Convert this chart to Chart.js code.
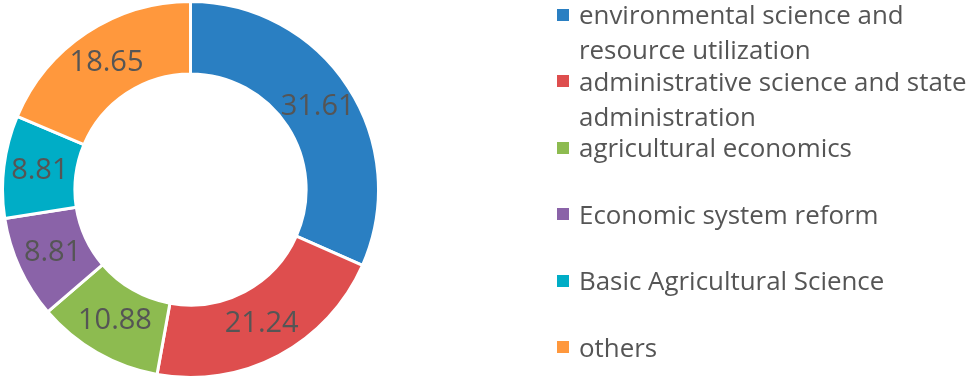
<!DOCTYPE html>
<html>
<head>
<meta charset="utf-8">
<script src="https://cdn.jsdelivr.net/npm/chart.js@4.4.1/dist/chart.umd.min.js"></script>
<style>
  html, body { margin: 0; padding: 0; background: #fff; }
  body { width: 969px; height: 379px; position: relative; overflow: hidden; font-family: "Open Sans", sans-serif; }
  #wrap { position: absolute; left: 0; top: 0; width: 381px; height: 379px; }
  #legenda { position: absolute; left: 0; top: 0; width: 969px; height: 379px; }
  .item { position: absolute; left: 557px; width: 412px; }
  .quad { position: absolute; left: 0; width: 12px; height: 12px; }
  .txt { position: absolute; left: 22px; width: 392px; color: #555555; font-size: 25.9px; line-height: 35px; }
</style>
</head>
<body>
<div id="wrap"><canvas id="grafico"></canvas></div>
<div id="legenda"></div>

<script>
// dados
const categorias = [
    'environmental science and resource utilization',
    'administrative science and state administration',
    'agricultural economics',
    'Economic system reform',
    'Basic Agricultural Science',
    'others'
];
const valores = [31.61, 21.24, 10.88, 8.81, 8.81, 18.65];
const cores = ['#2a7fc2', '#de4e4e', '#8dbb50', '#8a63a8', '#00adc6', '#ff983d'];

// escreve o valor no meio de cada fatia
const rotulosPlugin = {
    id: 'rotulos',
    afterDatasetsDraw(chart) {
        const ctx = chart.ctx;
        const meta = chart.getDatasetMeta(0);
        ctx.save();
        ctx.font = '29px "Open Sans", sans-serif';
        ctx.fillStyle = '#555555';
        ctx.textAlign = 'center';
        ctx.textBaseline = 'middle';
        meta.data.forEach((arco, i) => {
            const pos = arco.tooltipPosition();
            ctx.fillText(valores[i].toFixed(2), pos.x, pos.y);
        });
        ctx.restore();
    }
};

const ctx = document.getElementById('grafico').getContext('2d');
const grafico = new Chart(ctx, {
    type: 'doughnut',
    data: {
        labels: categorias,
        datasets: [{
            data: valores,
            backgroundColor: cores,
            borderColor: '#ffffff',
            borderWidth: 3
        }]
    },
    options: {
        responsive: true,
        maintainAspectRatio: false,
        animation: false,
        cutout: '61.5%',
        layout: { padding: 0 },
        plugins: {
            legend: { display: false },
            tooltip: { enabled: false }
        }
    },
    plugins: [rotulosPlugin]
});

// legenda em html, montada a partir dos dados do grafico
const legenda = document.getElementById('legenda');
grafico.data.labels.forEach((nome, i) => {
    const centro = 14.5 + i * 66.5; // centro da primeira linha de cada item
    const item = document.createElement('div');
    item.className = 'item';
    item.style.top = (centro - 17.5) + 'px';
    const quad = document.createElement('div');
    quad.className = 'quad';
    quad.style.top = '11.5px';
    quad.style.background = cores[i];
    const txt = document.createElement('div');
    txt.className = 'txt';
    txt.style.top = '0px';
    txt.innerText = nome;
    item.appendChild(quad);
    item.appendChild(txt);
    legenda.appendChild(item);
});
</script>
</body>
</html>
